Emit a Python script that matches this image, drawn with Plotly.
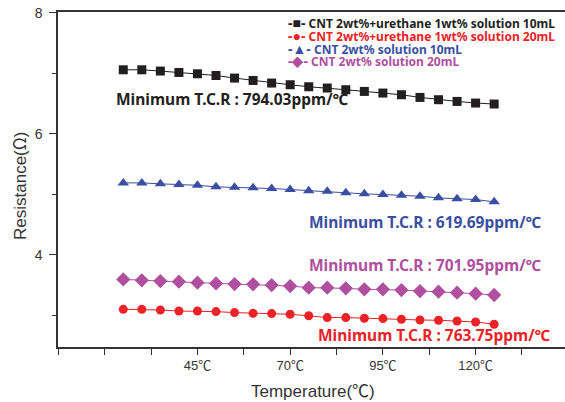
import plotly.graph_objects as go

temperature = [25, 30, 35, 40, 45, 50, 55, 60, 65, 70, 75, 80, 85, 90, 95, 100, 105, 110, 115, 120, 125]

res_urethane_10 = [7.056, 7.056, 7.035, 7.012, 6.990, 6.962, 6.919, 6.880, 6.837, 6.809, 6.776,
                   6.755, 6.727, 6.699, 6.672, 6.644, 6.600, 6.562, 6.534, 6.507, 6.491]
res_urethane_20 = [3.102, 3.102, 3.091, 3.074, 3.074, 3.064, 3.048, 3.036, 3.031, 3.020, 2.995,
                   2.966, 2.966, 2.954, 2.949, 2.938, 2.926, 2.921, 2.909, 2.893, 2.855]
res_cnt_10 = [5.189, 5.189, 5.173, 5.161, 5.150, 5.124, 5.117, 5.107, 5.096, 5.079, 5.059,
              5.051, 5.025, 5.008, 4.997, 4.985, 4.969, 4.942, 4.926, 4.914, 4.876]
res_cnt_20 = [3.596, 3.580, 3.568, 3.558, 3.542, 3.530, 3.519, 3.514, 3.503, 3.486, 3.460,
              3.460, 3.448, 3.432, 3.432, 3.420, 3.404, 3.394, 3.377, 3.361, 3.338]

series_names = ["CNT 2wt%+urethane 1wt% solution 10mL",
                "CNT 2wt%+urethane 1wt% solution 20mL",
                "CNT 2wt% solution 10mL",
                "CNT 2wt% solution 20mL"]
series_values = [res_urethane_10, res_urethane_20, res_cnt_10, res_cnt_20]
colors = ["#231f20", "#ec2227", "#3a4fa2", "#b04f9f"]
symbols = ["square", "circle", "triangle-up", "diamond"]
marker_sizes = [9, 9, 10, 11]
legend_glyphs = ["■", "●", "▲", "◆"]

tcr_labels = ["Minimum T.C.R : 794.03ppm/℃",
              "Minimum T.C.R : 763.75ppm/℃",
              "Minimum T.C.R : 619.69ppm/℃",
              "Minimum T.C.R : 701.95ppm/℃"]

CJK = "font-family:Noto Sans CJK KR"
x_tickvals = [20, 45, 70, 95, 120, 145]
x_ticktext = ["", f"45<span style=\"{CJK}\">℃</span>", f"70<span style=\"{CJK}\">℃</span>",
              f"95<span style=\"{CJK}\">℃</span>", f"120<span style=\"{CJK}\">℃</span>", ""]
y_tickvals = [4, 6, 8]

W, H = 565, 402
ML, MR, MT, MB = 58, 0, 12, 55
PW, PH = W - ML - MR, H - MT - MB


def px_x(px):
    return (px - ML) / PW


def px_y(py):
    return (H - MB - py) / PH


fig = go.Figure()
for name, vals, col, sym, ms in zip(series_names, series_values, colors, symbols, marker_sizes):
    fig.add_trace(go.Scatter(
        x=temperature, y=vals, mode="lines+markers", name=name,
        line=dict(color=col, width=1),
        marker=dict(symbol=sym, size=ms, color=col, line=dict(width=0)),
        showlegend=False, hoverinfo="skip",
    ))

annotations = []
# manual legend
leg_rows_y = [22.5, 35.3, 48.1, 61.0]
for name, col, g, ry in zip(series_names, colors, legend_glyphs, leg_rows_y):
    annotations.append(dict(
        xref="paper", yref="paper", x=px_x(286), y=px_y(ry),
        xanchor="left", yanchor="middle", showarrow=False,
        text=f"<b><span style=\"font-size:14px\">-{g}-</span> {name}</b>",
        font=dict(family="Noto Sans", size=12, color=col),
    ))

# T.C.R labels (order matches series)
tcr_pos = [(114, 99), (316, 335), (307, 221.7), (307, 265)]
for lab, col, (lx, ly) in zip(tcr_labels, colors, tcr_pos):
    annotations.append(dict(
        xref="paper", yref="paper", x=px_x(lx), y=px_y(ly),
        xanchor="left", yanchor="middle", showarrow=False,
        text=f"<b>{lab}</b>",
        font=dict(family="Noto Sans", size=15.5, color=col),
    ))

# axis titles
annotations.append(dict(
    xref="paper", yref="paper", x=px_x(313), y=px_y(389),
    xanchor="center", yanchor="middle", showarrow=False,
    text=f"Temperature(<span style=\"{CJK}\">℃</span>)",
    font=dict(family="Liberation Sans", size=17, color="#333333"),
))
annotations.append(dict(
    xref="paper", yref="paper", x=px_x(18), y=px_y(186),
    xanchor="center", yanchor="middle", showarrow=False, textangle=-90,
    text=f"Resistance(<span style=\"{CJK}\">Ω</span>)",
    font=dict(family="Liberation Sans", size=17, color="#333333"),
))

fig.update_layout(
    width=W, height=H,
    margin=dict(l=ML, r=MR, t=MT, b=MB, pad=0),
    paper_bgcolor="white", plot_bgcolor="white",
    annotations=annotations,
    showlegend=False,
)

fig.update_xaxes(
    range=[7.4, 144.1], showgrid=False, zeroline=False,
    showline=True, linecolor="#333333", linewidth=1.5, mirror=True,
    tickmode="array", tickvals=x_tickvals, ticktext=x_ticktext,
    ticks="outside", ticklen=6, tickwidth=1.2, tickcolor="#333333",
    tickfont=dict(family="Liberation Sans", size=13, color="#333333"),
    minor=dict(tick0=20, dtick=12.5, ticks="outside", ticklen=6, tickwidth=1.2, tickcolor="#333333"),
)
fig.update_yaxes(
    range=[2.48, 8.01], showgrid=False, zeroline=False,
    showline=True, linecolor="#333333", linewidth=1.5, mirror=False,
    tickmode="array", tickvals=y_tickvals,
    ticks="outside", ticklen=7, tickwidth=1.2, tickcolor="#333333",
    ticklabelstandoff=4, ticklabeloverflow="allow",
    tickfont=dict(family="Liberation Sans", size=14, color="#333333"),
    minor=dict(tick0=3, dtick=1, ticks="outside", ticklen=4, tickwidth=1.2, tickcolor="#333333"),
)

fig.write_html("out.html", config={"displayModeBar": False},
               post_script="document.body.style.margin='0';")
